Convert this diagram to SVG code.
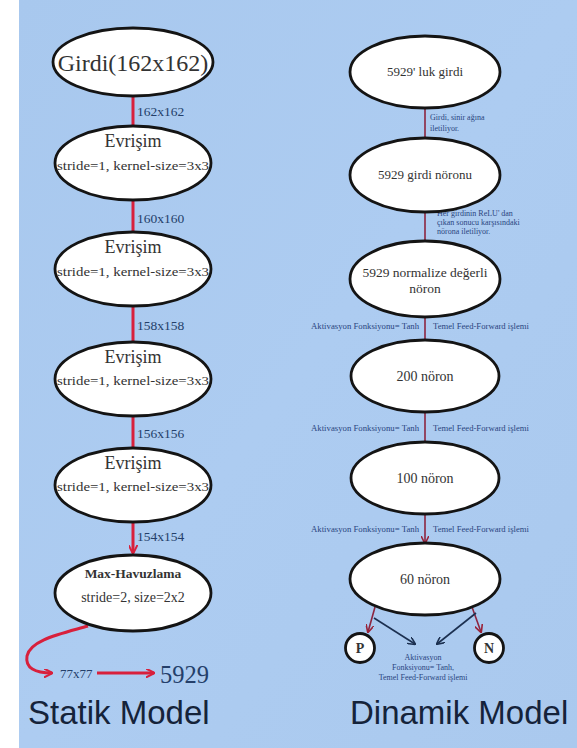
<svg xmlns="http://www.w3.org/2000/svg" width="577" height="748" viewBox="0 0 577 748">
<defs>
<linearGradient id="bg" x1="0" y1="0" x2="1" y2="1">
<stop offset="0" stop-color="#a8c8ee"/>
<stop offset="0.5" stop-color="#adccf1"/>
<stop offset="1" stop-color="#aac9ee"/>
</linearGradient>
<marker id="arL" viewBox="0 0 10 10" refX="9" refY="5" markerWidth="9" markerHeight="9" orient="auto" markerUnits="userSpaceOnUse">
<path d="M0,0 L10,5 L0,10" fill="none" stroke="#d8203c" stroke-width="2.2"/>
</marker>
<marker id="arD" viewBox="0 0 10 10" refX="9" refY="5" markerWidth="8" markerHeight="8" orient="auto" markerUnits="userSpaceOnUse">
<path d="M0,0 L10,5 L0,10" fill="none" stroke="#9a2238" stroke-width="2"/>
</marker>
<marker id="arB" viewBox="0 0 10 10" refX="9" refY="5" markerWidth="8" markerHeight="8" orient="auto" markerUnits="userSpaceOnUse">
<path d="M0,0 L10,5 L0,10" fill="none" stroke="#1c3050" stroke-width="2"/>
</marker>
</defs>
<style>
.node ellipse, .node circle { fill: #ffffff; stroke: #141414; stroke-width: 2.8; }
.t { font-family: "Liberation Serif", "Times New Roman", serif; fill: #333333; text-anchor: middle; }
.lbl { font-family: "Liberation Serif", "Times New Roman", serif; fill: #243f6a; }
.sm { font-family: "Liberation Serif", "Times New Roman", serif; fill: #2a4580; font-size: 8px; }
.red { stroke: #d8203c; stroke-width: 3; fill: none; }
.dred { stroke: #8c2540; stroke-width: 1.6; fill: none; }
.blu { stroke: #1c3050; stroke-width: 1.6; fill: none; }
.title { font-family: "Liberation Sans", Arial, sans-serif; font-size: 33px; fill: #15233a; }
</style>
<rect x="0" y="0" width="577" height="748" fill="#ffffff"/>
<rect x="19" y="0" width="558" height="748" fill="url(#bg)"/>

<g id="connectors">
<line class="red" x1="133" y1="96" x2="133" y2="126"/>
<line class="red" x1="133" y1="200" x2="133" y2="231"/>
<line class="red" x1="133" y1="306" x2="133" y2="342"/>
<line class="red" x1="133" y1="416" x2="133" y2="448"/>
<line class="red" x1="133" y1="522" x2="133" y2="553" marker-end="url(#arL)"/>
<path class="red" d="M88,626 C60,634 30,640 27,656 C25,668 35,673 52,673" marker-end="url(#arL)"/>
<line class="red" x1="97" y1="673" x2="154" y2="673" marker-end="url(#arL)"/>

<line class="dred" x1="425" y1="108" x2="425" y2="138"/>
<line class="dred" x1="425" y1="212" x2="425" y2="241"/>
<line class="dred" x1="425" y1="317" x2="425" y2="340"/>
<line class="dred" x1="425" y1="412" x2="425" y2="442"/>
<line class="dred" x1="425" y1="514" x2="425" y2="543" marker-end="url(#arD)"/>
<line class="dred" x1="375" y1="607" x2="368" y2="632" marker-end="url(#arD)"/>
<line class="dred" x1="472" y1="607" x2="481" y2="632" marker-end="url(#arD)"/>
<line class="blu" x1="374" y1="618" x2="415" y2="644" marker-end="url(#arB)"/>
<line class="blu" x1="476" y1="613" x2="437" y2="644" marker-end="url(#arB)"/>
</g>

<g id="edge-labels">
<text class="lbl" x="137" y="116" font-size="13.5">162x162</text>
<text class="lbl" x="137" y="223" font-size="13.5">160x160</text>
<text class="lbl" x="137" y="330" font-size="13.5">158x158</text>
<text class="lbl" x="137" y="438" font-size="13.5">156x156</text>
<text class="lbl" x="137" y="541" font-size="13.5">154x154</text>
<text class="lbl" x="60" y="678" font-size="13">77x77</text>
<text class="lbl" x="160" y="683" font-size="24.5" fill="#222">5929</text>

<text class="sm" x="430" y="120" font-size="8.5">Girdi, sinir ağına</text>
<text class="sm" x="430" y="131" font-size="8.5">iletiliyor.</text>
<text class="sm" x="437" y="216" font-size="7.5">Her girdinin ReLU' dan</text>
<text class="sm" x="437" y="225" font-size="7.5">çıkan sonucu karşısındaki</text>
<text class="sm" x="437" y="234" font-size="7.5">nörona iletiliyor.</text>
<text class="sm" x="419" y="329" text-anchor="end" textLength="108" lengthAdjust="spacingAndGlyphs">Aktivasyon Fonksiyonu= Tanh</text>
<text class="sm" x="433" y="329" textLength="96" lengthAdjust="spacingAndGlyphs">Temel Feed-Forward işlemi</text>
<text class="sm" x="419" y="431" text-anchor="end" textLength="108" lengthAdjust="spacingAndGlyphs">Aktivasyon Fonksiyonu= Tanh</text>
<text class="sm" x="433" y="431" textLength="96" lengthAdjust="spacingAndGlyphs">Temel Feed-Forward işlemi</text>
<text class="sm" x="419" y="532" text-anchor="end" textLength="108" lengthAdjust="spacingAndGlyphs">Aktivasyon Fonksiyonu= Tanh</text>
<text class="sm" x="433" y="532" textLength="96" lengthAdjust="spacingAndGlyphs">Temel Feed-Forward işlemi</text>
<text class="sm" x="423" y="660" text-anchor="middle">Aktivasyon</text>
<text class="sm" x="423" y="670" text-anchor="middle">Fonksiyonu= Tanh,</text>
<text class="sm" x="423" y="680" text-anchor="middle">Temel Feed-Forward işlemi</text>
</g>

<g id="n-girdi" class="node">
<ellipse cx="133" cy="62" rx="80" ry="34"/>
<text class="t" x="133" y="71" font-size="24">Girdi(162x162)</text>
</g>
<g id="n-conv1" class="node">
<ellipse cx="133" cy="163" rx="78" ry="37"/>
<text class="t" x="133" y="147" font-size="18">Evrişim</text>
<text class="t" x="133" y="170" font-size="13" textLength="152" lengthAdjust="spacingAndGlyphs">stride=1, kernel-size=3x3</text>
</g>
<g id="n-conv2" class="node">
<ellipse cx="133" cy="269" rx="78" ry="37"/>
<text class="t" x="133" y="253" font-size="18">Evrişim</text>
<text class="t" x="133" y="276" font-size="13" textLength="152" lengthAdjust="spacingAndGlyphs">stride=1, kernel-size=3x3</text>
</g>
<g id="n-conv3" class="node">
<ellipse cx="133" cy="379" rx="78" ry="37"/>
<text class="t" x="133" y="363" font-size="18">Evrişim</text>
<text class="t" x="133" y="385" font-size="13" textLength="152" lengthAdjust="spacingAndGlyphs">stride=1, kernel-size=3x3</text>
</g>
<g id="n-conv4" class="node">
<ellipse cx="133" cy="485" rx="78" ry="37"/>
<text class="t" x="133" y="469" font-size="18">Evrişim</text>
<text class="t" x="133" y="491" font-size="13" textLength="152" lengthAdjust="spacingAndGlyphs">stride=1, kernel-size=3x3</text>
</g>
<g id="n-pool" class="node">
<ellipse cx="133" cy="593" rx="78" ry="38"/>
<text class="t" x="133" y="578" font-size="13.5" font-weight="bold" fill="#444">Max-Havuzlama</text>
<text class="t" x="133" y="602" font-size="14">stride=2, size=2x2</text>
</g>

<g id="n-in" class="node">
<ellipse cx="425" cy="72" rx="75" ry="36"/>
<text class="t" x="425" y="76" font-size="13">5929' luk girdi</text>
</g>
<g id="n-inneur" class="node">
<ellipse cx="425" cy="175" rx="75" ry="37"/>
<text class="t" x="425" y="179" font-size="13">5929 girdi nöronu</text>
</g>
<g id="n-norm" class="node">
<ellipse cx="425" cy="279" rx="75" ry="38"/>
<text class="t" x="425" y="277" font-size="13.5">5929 normalize değerli</text>
<text class="t" x="425" y="293" font-size="13.5">nöron</text>
</g>
<g id="n-200" class="node">
<ellipse cx="425" cy="376" rx="74" ry="36"/>
<text class="t" x="425" y="381" font-size="14">200 nöron</text>
</g>
<g id="n-100" class="node">
<ellipse cx="425" cy="478" rx="74" ry="36"/>
<text class="t" x="425" y="483" font-size="14">100 nöron</text>
</g>
<g id="n-60" class="node">
<ellipse cx="425" cy="579" rx="75" ry="36"/>
<text class="t" x="425" y="584" font-size="14">60 nöron</text>
</g>
<g id="n-p" class="node">
<circle cx="360" cy="648" r="14.5"/>
<text class="t" x="360" y="653" font-size="14" font-weight="bold" fill="#222">P</text>
</g>
<g id="n-n" class="node">
<circle cx="489" cy="648" r="14.5"/>
<text class="t" x="489" y="653" font-size="14" font-weight="bold" fill="#222">N</text>
</g>

<text class="title" x="28" y="724">Statik Model</text>
<text class="title" x="350" y="724">Dinamik Model</text>
</svg>
